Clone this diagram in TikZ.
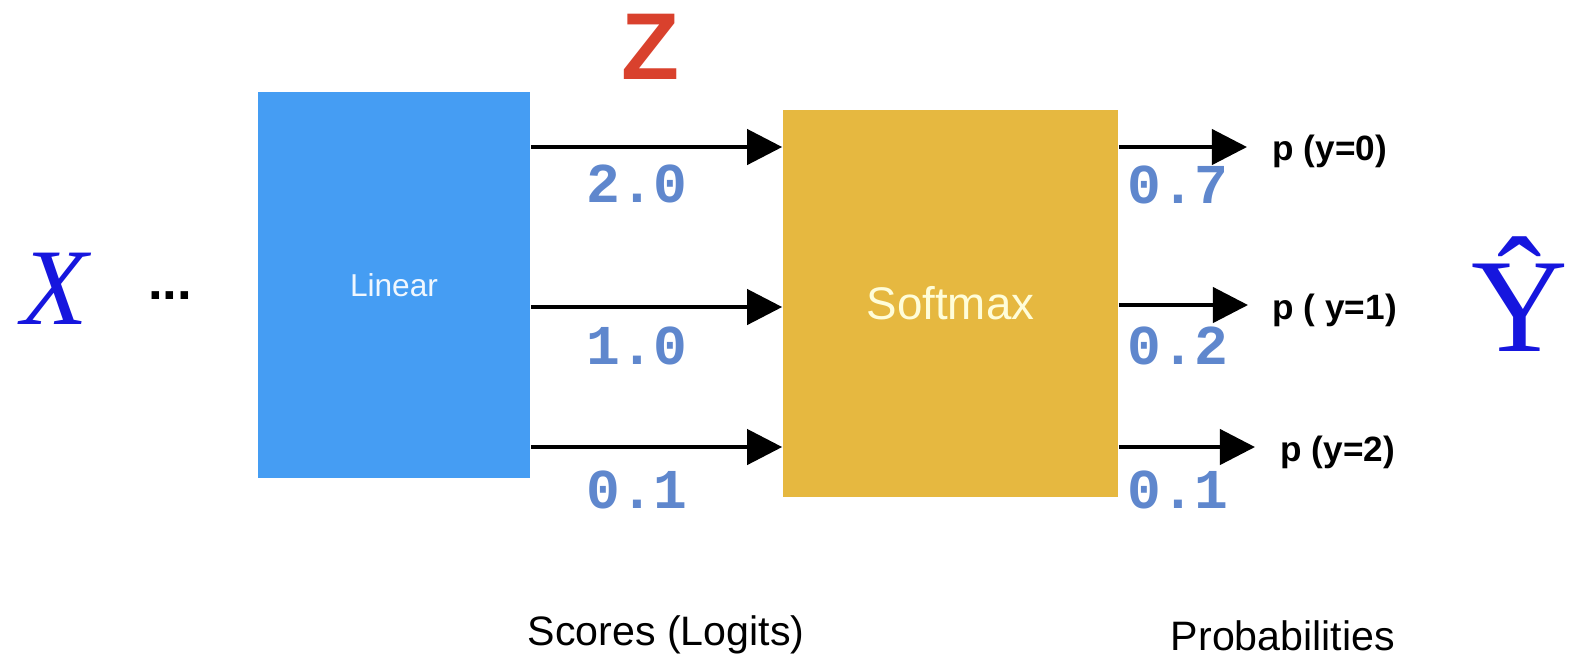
\documentclass[tikz,border=0pt]{standalone}
\usepackage{fontspec}
\setmainfont{Liberation Sans}
\newfontfamily\tmsfont{Liberation Serif}
\newfontfamily\crfont{Liberation Mono}
\usetikzlibrary{arrows.meta}
\definecolor{linblue}{RGB}{69,157,243}
\definecolor{smyellow}{RGB}{230,184,64}
\definecolor{numblue}{RGB}{95,135,205}
\definecolor{zred}{RGB}{217,65,45}
\definecolor{xblue}{RGB}{22,22,222}
\begin{document}
\begin{tikzpicture}[x=0.01cm, y=-0.01cm, line join=round,
 >={Triangle[length=10pt,width=10pt]},
 linbox/.style={fill=linblue, minimum width=2.72cm, minimum height=3.86cm, text=white!92!linblue, font=\fontsize{9}{10}\selectfont},
 smbox/.style={fill=smyellow, minimum width=3.35cm, minimum height=3.87cm, text=white!85!yellow, font=\fontsize{13}{15}\selectfont},
 num/.style={text=numblue, font=\crfont\bfseries\fontsize{16}{18}\selectfont},
 plab/.style={anchor=west, inner sep=0pt, font=\bfseries\fontsize{10}{12}\selectfont},
 captext/.style={anchor=base, font=\fontsize{11.7}{14}\selectfont}]
 \useasboundingbox (0,0) rectangle (1572,656);
 \node[linbox] (lin) at (394,285) {Linear};
 \node[smbox] (soft) at (950.5,303.5) {Softmax};
 \node[text=xblue, font=\tmsfont\itshape\fontsize{31}{34}\selectfont] (X) at (55,289) {X};
 \node[font=\bfseries\fontsize{15}{16}\selectfont] (dots) at (170,296) {...};
 \node[text=zred, font=\bfseries\fontsize{27}{30}\selectfont] (Z) at (650,47) {Z};
 \node[text=xblue, font=\tmsfont\fontsize{38}{40}\selectfont] (Yhat) at (1520,294) {Ŷ};
 \foreach \y/\ny/\v [count=\i] in {147/184/2.0, 307/346/1.0, 447/490/0.1}{
 \draw[->, line width=1.2pt] (lin.east |- 0,\y) -- (soft.west |- 0,\y);
 \node[num] (z\i) at (637,\ny) {\v};}
 \foreach \y/\ny/\v/\tx/\lx/\ly/\t [count=\i] in {147/185/0.7/1247/1272/151/{p (y=0)}, 305/346/0.2/1248/1272/310/{p ( y=1)}, 447/490/0.1/1255/1280/452/{p (y=2)}}{
 \coordinate (t\i) at (\tx,\y);
 \draw[->, line width=1.2pt] (soft.east |- t\i) -- (t\i);
 \node[num] (q\i) at (1178,\ny) {\v};
 \node[plab] (p\i) at (\lx,\ly) {\t};}
 \node[captext] (scores) at (666,645) {Scores (Logits)};
 \node[captext] (probs) at (1283,650) {Probabilities};
\end{tikzpicture}
\end{document}
